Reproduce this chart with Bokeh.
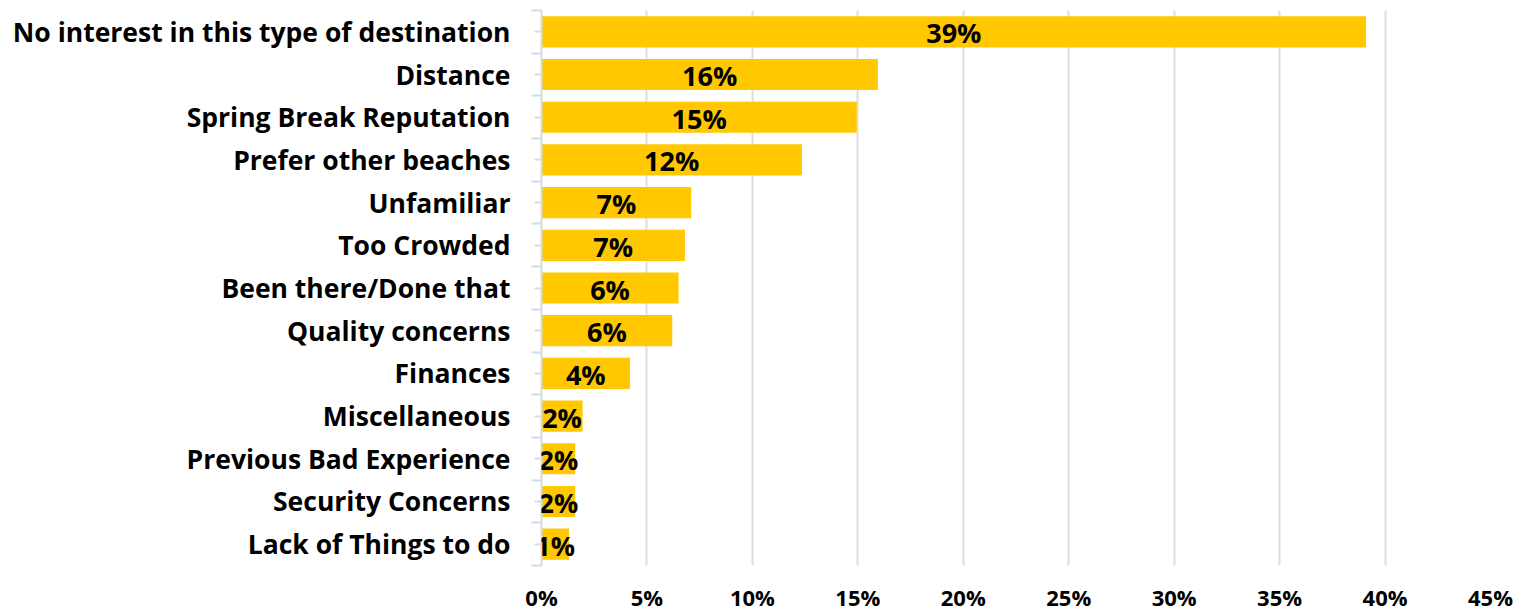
from bokeh.plotting import figure
from bokeh.models import ColumnDataSource, FixedTicker, Range1d, LabelSet
from bokeh.core.properties import value
from bokeh.embed import file_html
from bokeh.resources import INLINE

categories = [
    "No interest in this type of destination",
    "Distance",
    "Spring Break Reputation",
    "Prefer other beaches",
    "Unfamiliar",
    "Too Crowded",
    "Been there/Done that",
    "Quality concerns",
    "Finances",
    "Miscellaneous",
    "Previous Bad Experience",
    "Security Concerns",
    "Lack of Things to do",
]
values = [39.1, 15.95, 14.95, 12.35, 7.1, 6.8, 6.5, 6.2, 4.2, 1.95, 1.6, 1.6, 1.3]
x_ticks = [0, 5, 10, 15, 20, 25, 30, 35, 40, 45]
x_tick_labels = ["0%", "5%", "10%", "15%", "20%", "25%", "30%", "35%", "40%", "45%"]

n = len(categories)
ypos = [n - 1 - i for i in range(n)]
labels = [f"{round(v)}%" for v in values]
centers = [v / 2 for v in values]

src = ColumnDataSource(dict(y=ypos, v=values, lab=labels, cx=centers))

FONT = "Open Sans"

p = figure(width=1526, height=614, output_backend="svg", toolbar_location=None,
           x_range=Range1d(0, 45), y_range=Range1d(-0.5, n - 0.5),
           min_border_left=541, min_border_right=36, min_border_top=10, min_border_bottom=40)
p.outline_line_color = None
p.background_fill_color = "white"
p.border_fill_color = "white"

p.hbar(y="y", left=0, right="v", height=0.73, source=src,
       fill_color="#FFC800", line_color=None)

lbl = LabelSet(x="cx", y="y", text="lab", source=src, text_align="center",
               text_baseline="middle", text_font=value(FONT), text_font_style="bold",
               text_font_size="27px", text_color="black", y_offset=-1)
p.add_layout(lbl)

# x axis
p.xaxis.ticker = FixedTicker(ticks=x_ticks)
p.xaxis.major_label_overrides = {t: s for t, s in zip(x_ticks, x_tick_labels)}
p.xaxis.axis_line_color = None
p.xaxis.major_tick_line_color = None
p.xaxis.minor_tick_line_color = None
p.xaxis.major_tick_out = 0
p.xaxis.minor_tick_out = 0
p.xaxis.major_label_text_font = FONT
p.xaxis.major_label_text_font_style = "bold"
p.xaxis.major_label_text_font_size = "22px"
p.xaxis.major_label_text_color = "black"
p.xaxis.major_label_standoff = 16

# y axis
boundaries = [i - 0.5 for i in range(n + 1)]
p.yaxis.ticker = FixedTicker(ticks=ypos, minor_ticks=boundaries)
p.yaxis.major_label_overrides = {y: c for y, c in zip(ypos, categories)}
p.yaxis.axis_line_color = "#D6DCE5"
p.yaxis.axis_line_width = 2
p.yaxis.major_tick_line_color = "#D6DCE5"
p.yaxis.major_tick_line_width = 2
p.yaxis.major_tick_in = 0
p.yaxis.major_tick_out = 7
p.yaxis.minor_tick_line_color = "#D6DCE5"
p.yaxis.minor_tick_line_width = 2
p.yaxis.minor_tick_in = 0
p.yaxis.minor_tick_out = 10
p.yaxis.major_label_text_font = FONT
p.yaxis.major_label_text_font_style = "bold"
p.yaxis.major_label_text_font_size = "26.5px"
p.yaxis.major_label_text_color = "black"
p.yaxis.major_label_standoff = 21

p.xgrid.ticker = FixedTicker(ticks=x_ticks)
p.xgrid.grid_line_color = "#DDDDDD"
p.xgrid.grid_line_width = 2
p.ygrid.grid_line_color = None

open("out.html", "w").write(file_html(p, INLINE))
